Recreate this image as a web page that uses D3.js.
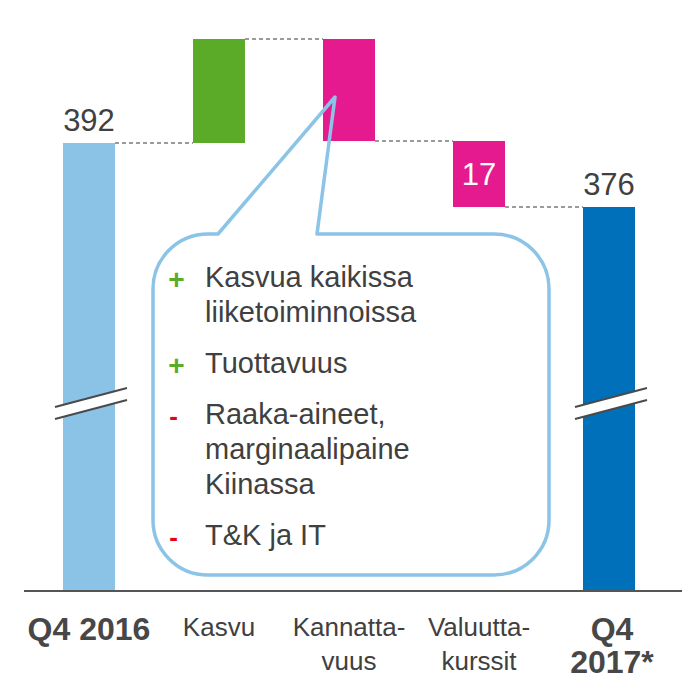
<!DOCTYPE html>
<html lang="fi">
<head>
    <meta charset="UTF-8">
    <title>Q4 2016 - Q4 2017 silta</title>
    <script src="https://d3js.org/d3.v7.min.js"></script>
    <style>
        body { margin: 0; background: #fff; }
        svg { display: block; font-family: "Liberation Sans", Arial, sans-serif; }
    </style>
</head>
<body>
    <div id="chart"></div>

    <script>
        const width = 682;
        const height = 681;

        // data
        const categories = ["Q4 2016", "Kasvu", "Kannattavuus", "Valuuttakurssit", "Q4 2017*"];
        const labelLines = [["Q4 2016"], ["Kasvu"], ["Kannatta-", "vuus"], ["Valuutta-", "kurssit"], ["Q4", "2017*"]];
        const boldLabel = [true, false, false, false, true];
        const changes = [392, 26, -25.5, -16.5, 376];   // first and last are totals
        const kinds = ["total", "up", "down", "down", "total"];
        const shownValues = ["392", "", "", "17", "376"];
        const bullets = [
            { sign: "+", lines: ["Kasvua kaikissa", "liiketoiminnoissa"] },
            { sign: "+", lines: ["Tuottavuus"] },
            { sign: "-", lines: ["Raaka-aineet,", "marginaalipaine", "Kiinassa"] },
            { sign: "-", lines: ["T&K ja IT"] }
        ];
        const breakValue = 328;

        const colors = { first: "#8BC3E6", last: "#0070BA", up: "#5BAA28", down: "#E61A8F" };

        // waterfall start/end
        let running = 0;
        const bars = categories.map((c, i) => {
            let y0, y1;
            if (kinds[i] === "total") { y0 = 280; y1 = changes[i]; running = changes[i]; }
            else { y0 = running; y1 = running + changes[i]; running = y1; }
            return { cat: c, i, y0, y1, kind: kinds[i] };
        });

        const svg = d3.select("#chart").append("svg")
            .attr("width", width)
            .attr("height", height);

        const x = d3.scaleBand()
            .domain(categories)
            .range([24, 674])
            .paddingInner(0.6)
            .paddingOuter(0.3);

        const y = d3.scaleLinear()
            .domain([280, 420])
            .range([591, 31]);

        function barColor(d) {
            if (d.kind === "total") return d.i === 0 ? colors.first : colors.last;
            return d.kind === "up" ? colors.up : colors.down;
        }

        // connectors
        const conn = svg.append("g");
        bars.slice(0, -1).forEach((d, i) => {
            const next = bars[i + 1];
            conn.append("line")
                .attr("x1", x(d.cat) + x.bandwidth())
                .attr("x2", x(next.cat))
                .attr("y1", y(d.y1))
                .attr("y2", y(d.y1))
                .attr("stroke", "#9a9a9a")
                .attr("stroke-width", 2)
                .attr("stroke-dasharray", "4,3");
        });

        svg.append("g").selectAll("rect")
            .data(bars)
            .join("rect")
            .attr("x", d => x(d.cat))
            .attr("width", x.bandwidth())
            .attr("y", d => y(Math.max(d.y0, d.y1)))
            .attr("height", d => Math.abs(y(d.y0) - y(d.y1)))
            .attr("fill", barColor);

        // axis break marks on totals
        bars.filter(d => d.kind === "total").forEach(d => {
            const cx = x(d.cat) + x.bandwidth() / 2 + 2;
            const by = y(breakValue);
            const g = svg.append("g");
            g.append("path")
                .attr("d", `M${cx - 36},${by + 8} L${cx + 36},${by - 11} L${cx + 36},${by + 1} L${cx - 36},${by + 20} Z`)
                .attr("fill", "#fff");
            [0, 12].forEach(off => {
                g.append("line")
                    .attr("x1", cx - 36).attr("y1", by + 8 + off)
                    .attr("x2", cx + 36).attr("y2", by - 11 + off)
                    .attr("stroke", "#4a4a4a")
                    .attr("stroke-width", 2);
            });
        });

        // value labels
        svg.append("g").selectAll("text")
            .data(bars.filter(d => shownValues[d.i] !== ""))
            .join("text")
            .attr("x", d => x(d.cat) + x.bandwidth() / 2)
            .attr("y", d => d.kind === "total"
                ? y(d.y1) - 12
                : (y(d.y0) + y(d.y1)) / 2)
            .attr("dy", d => d.kind === "total" ? 0 : "0.35em")
            .attr("text-anchor", "middle")
            .attr("font-size", 31)
            .attr("fill", d => d.kind === "total" ? "#404040" : "#fff")
            .text(d => shownValues[d.i]);

        // baseline
        svg.append("line")
            .attr("x1", 24).attr("x2", width)
            .attr("y1", y(280)).attr("y2", y(280))
            .attr("stroke", "#555")
            .attr("stroke-width", 2);

        // category labels
        const lab = svg.append("g");
        categories.forEach((c, i) => {
            const cx = x(c) + x.bandwidth() / 2 + (i === 4 ? 3 : 0);
            const t = lab.append("text")
                .attr("x", cx)
                .attr("y", boldLabel[i] ? 640 : 636)
                .attr("text-anchor", "middle")
                .attr("font-size", boldLabel[i] ? 32 : 26)
                .attr("font-weight", boldLabel[i] ? "bold" : "normal")
                .attr("fill", boldLabel[i] ? "#474747" : "#404040");
            labelLines[i].forEach((ln, j) => {
                t.append("tspan")
                    .attr("x", cx)
                    .attr("dy", j === 0 ? 0 : (boldLabel[i] ? 33 : 34))
                    .text(ln);
            });
        });

        // callout bubble
        const L = 153, R = 549, T = 234, B = 575, r = 55;
        const tip = [335, 97];
        const bubble = d3.path();
        bubble.moveTo(218, T);
        bubble.lineTo(tip[0], tip[1]);
        bubble.lineTo(317, T);
        bubble.lineTo(R - r, T);
        bubble.arcTo(R, T, R, T + r, r);
        bubble.lineTo(R, B - r);
        bubble.arcTo(R, B, R - r, B, r);
        bubble.lineTo(L + r, B);
        bubble.arcTo(L, B, L, B - r, r);
        bubble.lineTo(L, T + r);
        bubble.arcTo(L, T, L + r, T, r);
        bubble.closePath();

        svg.append("path")
            .attr("d", bubble.toString())
            .attr("fill", "none")
            .attr("stroke", "#8BC4E7")
            .attr("stroke-width", 3.5)
            .attr("stroke-linejoin", "round");

        const bl = svg.append("g").attr("font-size", 29).attr("fill", "#404040");
        let by = 287;
        bullets.forEach(b => {
            bl.append("text")
                .attr("x", b.sign === "+" ? 176.5 : 173.5)
                .attr("y", b.sign === "+" ? by + 2 : by + 1)
                .attr("text-anchor", "middle")
                .attr("font-size", b.sign === "+" ? 28 : 26)
                .attr("font-weight", "bold")
                .attr("fill", b.sign === "+" ? "#5BAA28" : "#E8001C")
                .text(b.sign);
            b.lines.forEach((ln, j) => {
                bl.append("text")
                    .attr("x", 205)
                    .attr("y", by + j * 35)
                    .text(ln);
            });
            by += (b.lines.length - 1) * 35 + 51;
        });
    </script>
</body>
</html>
